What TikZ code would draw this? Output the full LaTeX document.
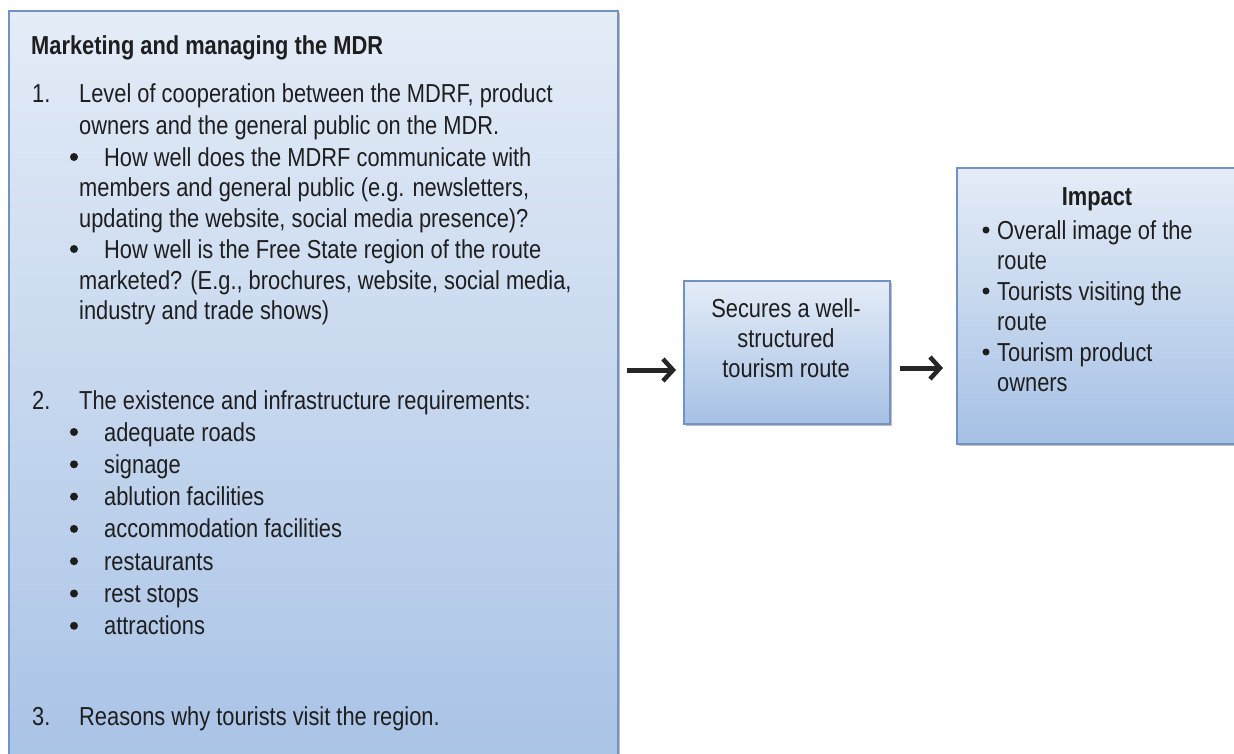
\documentclass[tikz,border=0pt]{standalone}
\usepackage{fontspec}
\setmainfont{Liberation Sans}[FakeStretch=0.84]
\usetikzlibrary{positioning,shadows,arrows.meta}

\definecolor{boxtop}{RGB}{228,236,247}
\definecolor{boxbot}{RGB}{166,193,229}
\definecolor{boxline}{RGB}{112,146,196}
\definecolor{ink}{RGB}{30,30,30}

\tikzset{
  box/.style={draw=boxline, line width=1.5pt, top color=boxtop, bottom color=boxbot,
    inner sep=0pt, anchor=north west,
    drop shadow={shadow xshift=2.5pt, shadow yshift=-2.5pt, fill=black, opacity=0.25}},
  txt/.style={anchor=base west, inner sep=0pt, text=ink, font=\fontsize{26}{31}\selectfont},
  ctxt/.style={txt, anchor=base},
  dot/.style={circle, fill=ink, inner sep=0pt, minimum size=8pt},
  arr/.style={-{Straight Barb[length=10pt,width=22pt,line width=4.5pt]}, line width=5pt, black!85}
}

\begin{document}
\begin{tikzpicture}[x=1pt,y=-1pt]
  \useasboundingbox (0,0) rectangle (1234,753);
  \clip (0,0) rectangle (1234,753);

  % boxes
  \node[box, minimum width=609pt, minimum height=790pt] (mgmt) at (8,10) {};
  \node[box, minimum width=206pt, minimum height=143pt] (route) at (683,280) {};
  \node[box, minimum width=284pt, minimum height=276pt] (impact) at (956,167) {};

  % left box
  \node[txt, font=\fontsize{26}{31}\selectfont\bfseries] (head) at (31,54) {Marketing and managing the MDR};
  \node[txt] (n1) at (32,102) {1.};
  \node[txt] (l1) at (79,102) {Level of cooperation between the MDRF, product};
  \node[txt] (l2) at (79,134) {owners and the general public on the MDR.};
  \node[dot] (d1) at (74,157) {};
  \node[txt] (l3) at (104,166) {How well does the MDRF communicate with};
  \node[txt] (l4) at (79,196) {members and general public (e.g. newsletters,};
  \node[txt] (l5) at (79,227) {updating the website, social media presence)?};
  \node[dot] (d2) at (74,249) {};
  \node[txt] (l6) at (104,258) {How well is the Free State region of the route};
  \node[txt] (l7) at (79,289) {marketed? (E.g., brochures, website, social media,};
  \node[txt] (l8) at (79,319) {industry and trade shows)};

  \node[txt] (n2) at (32,409) {2.};
  \node[txt] (m0) at (79,409) {The existence and infrastructure requirements:};
  \foreach \w [count=\i from 0] in {adequate roads, signage, ablution facilities,
      accommodation facilities, restaurants, rest stops, attractions} {
    \node[dot] (e\i) at (74,{432+32.3*\i}) {};
    \node[txt] (m\i) at (104,{441+32.3*\i}) {\w};
  }

  \node[txt] (n3) at (32,725) {3.};
  \node[txt] (r1) at (79,725) {Reasons why tourists visit the region.};

  % middle box
  \node[ctxt] (s1) at (786,317) {Secures a well-};
  \node[ctxt] (s2) at (786,347) {structured};
  \node[ctxt] (s3) at (786,377) {tourism route};

  % right box
  \node[ctxt, font=\fontsize{26}{31}\selectfont\bfseries] (imp) at (1097,205) {Impact};
  \foreach \w/\b [count=\i from 0] in {Overall image of the/1, route/0,
      Tourists visiting the/1, route/0, Tourism product/1, owners/0} {
    \ifnum\b=1 \node[dot, minimum size=7pt] (f\i) at (986,{230+30.5*\i}) {}; \fi
    \node[txt] (k\i) at (997,{239+30.5*\i}) {\w};
  }

  % arrows
  \draw[arr, shorten <=8pt, shorten >=7pt] (mgmt.east |- 0,370) -- (route.west |- 0,370);
  \draw[arr, shorten <=9pt, shorten >=13pt] (route.east |- 0,368) -- (impact.west |- 0,368);
\end{tikzpicture}
\end{document}
